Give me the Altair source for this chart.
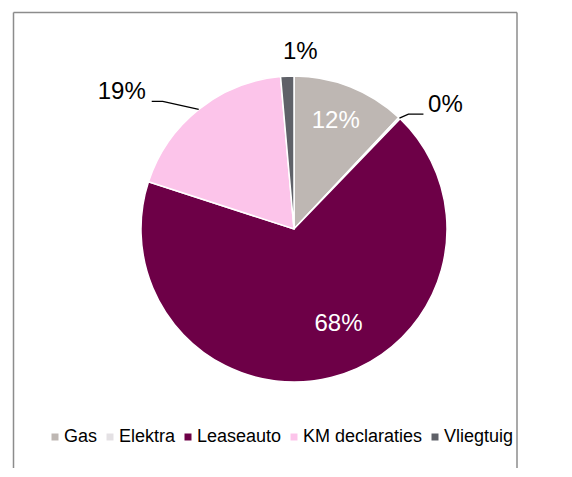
import altair as alt
import pandas as pd

categories = ["Gas", "Elektra", "Leaseauto", "KM declaraties", "Vliegtuig"]
shares = [12.0, 0.2, 67.8, 18.6, 1.4]
labels = ["12%", "0%", "68%", "19%", "1%"]
colors = ["#BEB7B3", "#E4E1E4", "#6D0047", "#FCC4EA", "#5F6168"]

df = pd.DataFrame({"cat": categories, "value": shares, "label": labels, "order": list(range(len(categories)))})

CX, CY, R = 286, 221, 153
W, H = 556, 460
FONT = "Liberation Sans"

theta = alt.Theta("value:Q", stack=True)
order = alt.Order("order:Q", sort="ascending")

pie = alt.Chart(df).mark_arc(radius=R, stroke="white", strokeWidth=1.5).encode(
    theta=theta,
    order=order,
    color=alt.Color(
        "cat:N",
        sort=categories,
        scale=alt.Scale(domain=categories, range=colors),
        legend=alt.Legend(
            orient="none", legendX=38, legendY=420, direction="horizontal", title=None,
            symbolType="square", symbolSize=49, symbolStrokeWidth=0, symbolOpacity=1,
            labelFont=FONT, labelFontSize=18, labelColor="black", labelOffset=0,
            columnPadding=3, padding=0,
        ),
    ),
    x=alt.value(CX),
    y=alt.value(CY),
)


def label_layer(cat, r, dx, dy, color):
    return (
        alt.Chart(df)
        .transform_calculate(t=f"datum.cat == '{cat}' ? datum.label : ''")
        .mark_text(radius=r, dx=dx, dy=dy, font=FONT, fontSize=24, color=color,
                   align="center", baseline="middle")
        .encode(theta=theta, order=order, text="t:N", x=alt.value(CX), y=alt.value(CY))
    )


texts = [
    label_layer("Gas", 116, -1, 0, "white"),
    label_layer("Elektra", R, 46, -13, "black"),
    label_layer("Leaseauto", 105, 19, -7, "white"),
    label_layer("KM declaraties", R, -77, -17, "black"),
    label_layer("Vliegtuig", R, 13, -24, "black"),
]

ox_expr = ("datum.pts == 0 ? 0 : datum.cat == 'Elektra' ? (datum.pts == 1 ? 9 : 24) "
           ": (datum.pts == 1 ? -36 : -47)")
oy_expr = "datum.pts == 0 ? 0 : (datum.cat == 'Elektra' ? -4 : -8)"

leader = (
    alt.Chart(df)
    .transform_joinaggregate(total="sum(value)")
    .transform_window(cum="sum(value)", sort=[alt.SortField("order")], frame=[None, 0])
    .transform_filter(alt.FieldOneOfPredicate(field="cat", oneOf=["Elektra", "KM declaraties"]))
    .transform_calculate(mid="(datum.cum - datum.value/2)/datum.total*2*PI", pts="[0,1,2]")
    .transform_flatten(["pts"])
    .transform_calculate(
        px=f"{CX} + {R}*sin(datum.mid) + ({ox_expr})",
        py=f"{CY} - {R}*cos(datum.mid) + ({oy_expr})",
    )
    .mark_line(color="black", strokeWidth=1.3)
    .encode(
        x=alt.X("px:Q", scale=None, axis=None),
        y=alt.Y("py:Q", scale=None, axis=None),
        detail="cat:N",
        order="pts:Q",
    )
)

frame = alt.Chart(pd.DataFrame({"k": [0]})).mark_rule(color="#8C8C8C", strokeWidth=1.5)
left = frame.encode(x=alt.value(5.5), y=alt.value(4.5), y2=alt.value(H))
right = frame.encode(x=alt.value(509), y=alt.value(4.5), y2=alt.value(H))
top = frame.encode(x=alt.value(5.5), x2=alt.value(509), y=alt.value(4.5))

chart = (
    alt.layer(left, right, top, pie, leader, *texts)
    .properties(width=W, height=H, padding=0, autosize=alt.AutoSizeParams(type="none"),
                background="white")
    .configure_view(stroke=None)
)

chart.save("out.html", embed_options={"renderer": "svg", "actions": False})
